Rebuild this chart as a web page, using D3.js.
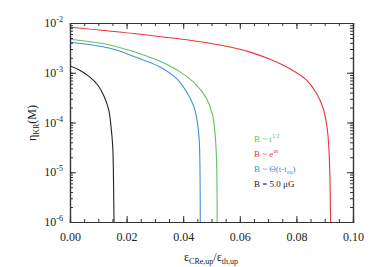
<!DOCTYPE html>
<html><head><meta charset="utf-8">
<script src="https://cdn.jsdelivr.net/npm/d3@7"></script>
<style>body{margin:0;background:#fff}svg{display:block}</style>
</head><body>
<script>
// x = epsilon_CRe,up / epsilon_th,up ; y = eta_KR(M)
const blackX = [0, 0.0033, 0.0068, 0.0098, 0.0121, 0.0137, 0.0145, 0.0151, 0.0153, 0.01544, 0.01555];
const blackY = [1.37e-3, 1.135e-3, 8.34e-4, 5.68e-4, 3.30e-4, 1.78e-4, 8.24e-5, 3.27e-5, 1.29e-5, 3.78e-6, 1e-6];
const blueX = [0, 0.0141, 0.0247, 0.0318, 0.0377, 0.0412, 0.0436, 0.0450, 0.0457, 0.04594, 0.04604];
const blueY = [4.09e-3, 3.10e-3, 1.91e-3, 1.31e-3, 7.59e-4, 4.10e-4, 2.22e-4, 1.02e-4, 4.06e-5, 1.01e-5, 1e-6];
const greenX = [0, 0.0141, 0.0247, 0.0318, 0.0389, 0.0448, 0.0483, 0.0504, 0.0513, 0.0518, 0.0520];
const greenY = [4.70e-3, 3.61e-3, 2.42e-3, 1.70e-3, 1.04e-3, 5.60e-4, 3.01e-4, 1.40e-4, 5.53e-5, 1.61e-5, 1e-6];
const redX = [0, 0.0247, 0.0459, 0.0548, 0.0636, 0.0707, 0.0777, 0.0836, 0.0872, 0.0895, 0.0909, 0.0916, 0.0921];
const redY = [8.20e-3, 5.93e-3, 4.21e-3, 3.45e-3, 2.60e-3, 1.86e-3, 1.20e-3, 7.08e-4, 3.79e-4, 1.89e-4, 7.50e-5, 2.19e-5, 1e-6];
const xTicks = [0, 0.02, 0.04, 0.06, 0.08, 0.10];
const yTickExps = [-2, -3, -4, -5, -6];
const legendLabels = ["B ~ t", "B ~ e", "B ~ Θ(t-t", "B = 5.0 μG"];

const FONT = "'Liberation Serif', 'Times New Roman', 'DejaVu Serif', serif";
const W = 374, H = 267;
const L = 70, R = 353, T = 23, B = 222;
const svg = d3.select("body").append("svg").attr("width", W).attr("height", H);
const x = d3.scaleLinear().domain([0, 0.1]).range([L, R]);
const y = d3.scaleLog().domain([1e-6, 1e-2]).range([B, T]);

const series = [
  {xs: blackX, ys: blackY, c: "#222222"},
  {xs: blueX, ys: blueY, c: "#4a8fd3"},
  {xs: greenX, ys: greenY, c: "#62c262"},
  {xs: redX, ys: redY, c: "#e8343c"}
];
const line = d3.line().x(d => x(d[0])).y(d => y(d[1])).curve(d3.curveCatmullRom.alpha(0.5));
svg.append("defs").append("clipPath").attr("id", "clip").append("rect")
  .attr("x", L).attr("y", T).attr("width", R - L).attr("height", B - T);
const g = svg.append("g").attr("clip-path", "url(#clip)");
series.forEach(s => {
  g.append("path").datum(s.xs.map((v, i) => [v, s.ys[i]]))
    .attr("d", line).attr("fill", "none").attr("stroke", s.c).attr("stroke-width", 1.1);
});

// axes with inward ticks
const ax = "#333";
const xMinor = d3.range(0, 0.1001, 0.005);
const yMinor = [];
for (let e = -6; e < -2; e++) for (let k = 1; k <= 9; k++) yMinor.push(k * Math.pow(10, e));
function tickG(axis, sel) { return svg.append("g").attr("transform", sel).call(axis)
  .call(a => a.select(".domain").attr("stroke", ax).attr("stroke-width", 1.2))
  .call(a => a.selectAll(".tick line").attr("stroke", ax)); }
tickG(d3.axisBottom(x).tickValues(xMinor).tickSize(-3).tickFormat(""), `translate(0,${B})`);
tickG(d3.axisTop(x).tickValues(xMinor).tickSize(-3).tickFormat(""), `translate(0,${T})`);
tickG(d3.axisLeft(y).tickValues(yMinor).tickSize(-3).tickFormat(""), `translate(${L},0)`);
tickG(d3.axisRight(y).tickValues(yMinor).tickSize(-3).tickFormat(""), `translate(${R},0)`);
const xb = tickG(d3.axisBottom(x).tickValues(xTicks).tickSize(-6).tickPadding(10).tickFormat(d3.format(".2f")), `translate(0,${B})`);
xb.selectAll("text").attr("font-size", 12).attr("fill", "#222").style("font-family", FONT);
tickG(d3.axisTop(x).tickValues(xTicks).tickSize(-6).tickFormat(""), `translate(0,${T})`);
tickG(d3.axisLeft(y).tickValues(yTickExps.map(e => Math.pow(10, e))).tickSize(-6).tickFormat(""), `translate(${L},0)`);
tickG(d3.axisRight(y).tickValues(yTickExps.map(e => Math.pow(10, e))).tickSize(-6).tickFormat(""), `translate(${R},0)`);
yTickExps.forEach(e => {
  const t = svg.append("text").attr("x", 63).attr("y", y(Math.pow(10, e)) + 4)
    .attr("text-anchor", "end").attr("font-size", 12).attr("fill", "#222").style("font-family", FONT);
  t.append("tspan").text("10");
  t.append("tspan").attr("dy", -5).attr("font-size", 8).text(String(e));
});

// axis titles
const xt = svg.append("text").attr("x", 211).attr("y", 261).attr("text-anchor", "middle")
  .attr("font-size", 12).attr("fill", "#222").style("font-family", FONT);
xt.append("tspan").text("ε");
xt.append("tspan").attr("dy", 3).attr("font-size", 8).text("CRe,up");
xt.append("tspan").attr("dy", -3).text("/ε");
xt.append("tspan").attr("dy", 3).attr("font-size", 8).text("th,up");
const yt = svg.append("text").attr("transform", "translate(36,123) rotate(-90)").attr("text-anchor", "middle")
  .attr("font-size", 12).attr("fill", "#222").style("font-family", FONT);
yt.append("tspan").text("η");
yt.append("tspan").attr("dy", 3).attr("font-size", 8).text("KR");
yt.append("tspan").attr("dy", -3).text("(M)");

// legend
const lg = svg.append("g").attr("font-size", 9).style("font-family", FONT);
const lcol = ["#62c262", "#e8343c", "#4a8fd3", "#222222"];
const ly = [142, 157, 172, 187];
const l0 = lg.append("text").attr("x", 254).attr("y", ly[0]).attr("fill", lcol[0]);
l0.append("tspan").text(legendLabels[0]);
l0.append("tspan").attr("dy", -4).attr("font-size", 6).text("1/2");
const l1 = lg.append("text").attr("x", 254).attr("y", ly[1]).attr("fill", lcol[1]);
l1.append("tspan").text(legendLabels[1]);
l1.append("tspan").attr("dy", -4).attr("font-size", 6).text("αt");
const l2 = lg.append("text").attr("x", 254).attr("y", ly[2]).attr("fill", lcol[2]);
l2.append("tspan").text(legendLabels[2]);
l2.append("tspan").attr("dy", 2).attr("font-size", 6).text("eq");
l2.append("tspan").attr("dy", -2).text(")");
lg.append("text").attr("x", 254).attr("y", ly[3]).attr("fill", lcol[3]).text(legendLabels[3]);
</script>
</body></html>
